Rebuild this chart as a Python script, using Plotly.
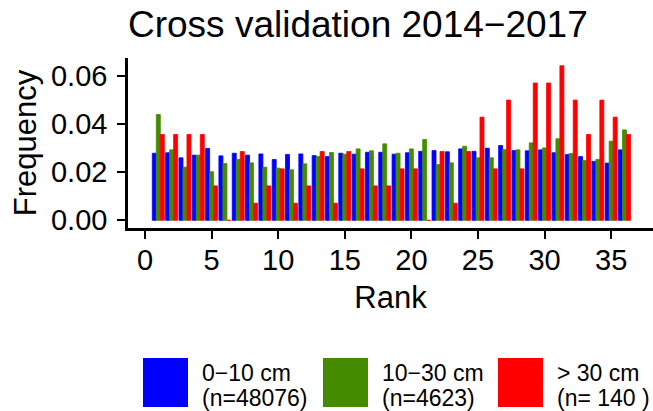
import plotly.graph_objects as go

ranks = list(range(1, 37))

freq_0_10 = [0.0279, 0.0281, 0.0260, 0.0271, 0.0299, 0.0268, 0.0279, 0.0271, 0.0276, 0.0253,
             0.0274, 0.0276, 0.0269, 0.0265, 0.0279, 0.0275, 0.0283, 0.0283, 0.0275, 0.0281,
             0.0287, 0.0290, 0.0285, 0.0297, 0.0287, 0.0300, 0.0311, 0.0290, 0.0289, 0.0293,
             0.0281, 0.0274, 0.0265, 0.0245, 0.0238, 0.0293]

freq_10_30 = [0.0440, 0.0293, 0.0221, 0.0271, 0.0202, 0.0236, 0.0253, 0.0239, 0.0221, 0.0217,
              0.0210, 0.0235, 0.0265, 0.0282, 0.0275, 0.0297, 0.0289, 0.0318, 0.0279, 0.0297,
              0.0336, 0.0232, 0.0239, 0.0308, 0.0260, 0.0260, 0.0294, 0.0293, 0.0322, 0.0301,
              0.0339, 0.0278, 0.0249, 0.0253, 0.0329, 0.0376]

freq_30 = [0.0357, 0.0357, 0.0357, 0.0357, 0.0143, 0.0000, 0.0286, 0.0071, 0.0143, 0.0214,
           0.0071, 0.0143, 0.0286, 0.0071, 0.0286, 0.0214, 0.0143, 0.0143, 0.0214, 0.0214,
           0.0000, 0.0286, 0.0071, 0.0286, 0.0429, 0.0214, 0.0500, 0.0214, 0.0571, 0.0571,
           0.0643, 0.0500, 0.0357, 0.0500, 0.0429, 0.0357]

series_names = ["0\u221210 cm", "10\u221230 cm", "> 30 cm"]
series_n = ["(n=48076)", "(n=4623)", "(n= 140 )"]
series_vals = [freq_0_10, freq_10_30, freq_30]
colors = ["#0000FF", "#458B00", "#FF0000"]

FONT = "Liberation Sans, Arial, Helvetica, sans-serif"
W, H = 653, 411
ML, MR, MT, MB = 128, 0, 58, 183
PW, PH = W - ML - MR, H - MT - MB

fig = go.Figure()
for name, vals, col in zip(series_names, series_vals, colors):
    fig.add_trace(go.Bar(x=ranks, y=vals, name=name, marker_color=col,
                         marker_line=dict(color=col, width=0.8), showlegend=False))

def px2x(px):
    return (px - ML) / PW

def py2y(py):
    return (H - MB - py) / PH

shapes = []
annotations = []
key_left = [143, 323, 498]
text_left = [200, 380, 555]
for i in range(3):
    shapes.append(dict(type="rect", xref="paper", yref="paper",
                       x0=px2x(key_left[i]), x1=px2x(key_left[i] + 45),
                       y0=py2y(407), y1=py2y(358),
                       fillcolor=colors[i], line=dict(width=0)))
    annotations.append(dict(xref="paper", yref="paper", x=px2x(text_left[i]), y=py2y(372.5),
                            xanchor="left", yanchor="middle", showarrow=False,
                            text=series_names[i], font=dict(size=23, color="black", family=FONT)))
    annotations.append(dict(xref="paper", yref="paper", x=px2x(text_left[i]), y=py2y(397.5),
                            xanchor="left", yanchor="middle", showarrow=False,
                            text=series_n[i], font=dict(size=23, color="black", family=FONT)))

fig.update_layout(
    width=W, height=H,
    margin=dict(l=ML, r=MR, t=MT, b=MB, autoexpand=False),
    paper_bgcolor="white", plot_bgcolor="white",
    barmode="group", bargap=0.1, bargroupgap=0,
    font=dict(family=FONT, color="black"),
    title=dict(text="Cross validation 2014\u22122017", font=dict(size=37, color="black", family=FONT),
               x=ML / W, xanchor="left", xref="container", y=1 - 11.5 / H, yanchor="top", yref="container"),
    shapes=shapes, annotations=annotations,
)
fig.update_xaxes(range=[-1.276, 38.14], tickmode="linear", tick0=0, dtick=5, automargin=False,
                 showgrid=False, zeroline=False, showline=True, linecolor="black", linewidth=2.5,
                 ticks="outside", ticklen=8, tickwidth=2, tickcolor="black",
                 tickfont=dict(size=29, color="black"), ticklabelstandoff=-4,
                 title=dict(text="Rank", font=dict(size=31, color="black"), standoff=12))
fig.update_yaxes(range=[-0.0032, 0.0675], tickmode="linear", tick0=0, dtick=0.02, tickformat=".2f",
                 automargin=False,
                 showgrid=False, zeroline=False, showline=True, linecolor="black", linewidth=2.5,
                 ticks="outside", ticklen=8, tickwidth=2, tickcolor="black",
                 tickfont=dict(size=29, color="black"), ticklabelstandoff=4,
                 title=dict(text="Frequency", font=dict(size=31, color="black"), standoff=6))

fig.write_html("out.html", config={"displayModeBar": False},
               post_script="document.body.style.margin='0';")
